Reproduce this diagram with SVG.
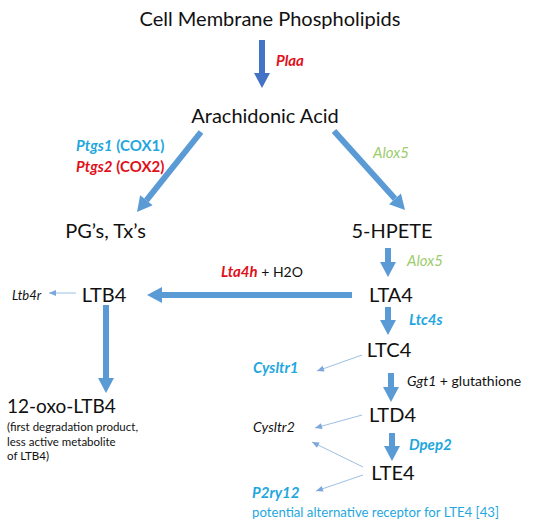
<svg xmlns="http://www.w3.org/2000/svg" width="550" height="529" viewBox="0 0 550 529">
<style>
text{font-family:Lato,"Open Sans","Liberation Sans",sans-serif;fill:#111}
.big{font-size:20px}
.mid{font-size:14px}
.bl{font-size:15px}
.sm{font-size:11.5px}
.b{font-weight:bold}
.i{font-style:italic}
.red{fill:#e0101a}
.cyan{fill:#1fa7de}
.green{fill:#9ccc6c}
.blk{fill:#111}
.thick{stroke:#5b9bd5;stroke-width:6;fill:none;marker-end:url(#head)}
.thin{stroke:#9dbfe3;stroke-width:1;fill:none;marker-end:url(#small)}
</style>
<defs>
<marker id="head" markerUnits="userSpaceOnUse" markerWidth="16" markerHeight="16" refX="0" refY="8" orient="auto" overflow="visible">
<path d="M0,0 L15,8 L0,16 Z" fill="#5b9bd5"/>
</marker>
<marker id="headDark" markerUnits="userSpaceOnUse" markerWidth="16" markerHeight="16" refX="0" refY="8" orient="auto" overflow="visible">
<path d="M0,0 L15,8 L0,16 Z" fill="#4472c4"/>
</marker>
<marker id="small" markerUnits="userSpaceOnUse" markerWidth="7" markerHeight="6" refX="7" refY="3" orient="auto" overflow="visible">
<path d="M0,0 L7,3 L0,6 Z" fill="#7aa7dc"/>
</marker>
</defs>
<rect width="550" height="529" fill="#fff"/>
<g id="connectors">
<line x1="262" y1="40" x2="262" y2="73" style="stroke:#4472c4;stroke-width:6;marker-end:url(#headDark)"/>
<line class="thick" x1="201" y1="132" x2="146.4" y2="200.3"/>
<line class="thick" x1="334" y1="131" x2="395" y2="198.8"/>
<line class="thick" x1="388" y1="248" x2="388" y2="262"/>
<line class="thick" x1="352" y1="295" x2="162" y2="295"/>
<line class="thick" x1="106" y1="305" x2="106" y2="378"/>
<line class="thick" x1="388" y1="307" x2="388" y2="320"/>
<line class="thick" x1="391" y1="373" x2="391" y2="387"/>
<line class="thick" x1="392" y1="433" x2="392" y2="446"/>
<line class="thin" x1="76" y1="293" x2="49" y2="293"/>
<line class="thin" x1="362" y1="355" x2="317" y2="371"/>
<line class="thin" x1="362" y1="415" x2="315" y2="428"/>
<line class="thin" x1="363" y1="467" x2="312" y2="442"/>
<line class="thin" x1="363" y1="475" x2="316" y2="491"/>
</g>
<g id="edge-labels">
<text class="bl b i red" x="276" y="66">Plaa</text>
<text class="bl b" x="76" y="151"><tspan class="i cyan">Ptgs1</tspan><tspan class="cyan"> (COX1)</tspan></text>
<text class="bl b" x="76" y="172"><tspan class="i red">Ptgs2</tspan><tspan class="red"> (COX2)</tspan></text>
<text class="bl i green" x="373" y="158">Alox5</text>
<text class="bl i green" x="407" y="266">Alox5</text>
<text class="mid" x="221" y="277"><tspan class="b i red" style="font-size:15px">Lta4h</tspan><tspan class="blk"> + H2O</tspan></text>
<text class="bl b i cyan" x="409" y="325">Ltc4s</text>
<text class="mid" x="407" y="386"><tspan class="i">Ggt1</tspan> + glutathione</text>
<text class="bl b i cyan" x="409" y="450">Dpep2</text>
</g>
<g id="node-membrane"><text class="big" x="270" y="26" text-anchor="middle">Cell Membrane Phospholipids</text></g>
<g id="node-aa"><text class="big" x="265" y="123" text-anchor="middle">Arachidonic Acid</text></g>
<g id="node-pg"><text class="big" x="105.5" y="238" text-anchor="middle">PG’s, Tx’s</text></g>
<g id="node-5hpete"><text class="big" x="392" y="238" text-anchor="middle">5-HPETE</text></g>
<g id="node-lta4"><text class="big" x="391" y="302" text-anchor="middle">LTA4</text></g>
<g id="node-ltb4"><text class="big" x="104" y="302" text-anchor="middle">LTB4</text></g>
<g id="node-ltb4r"><text class="i" x="12" y="300" style="font-size:13px">Ltb4r</text></g>
<g id="node-12oxo">
<text class="big" x="7" y="413" style="font-size:19px">12-oxo-LTB4</text>
<text class="sm" x="7" y="431">(first degradation product,</text>
<text class="sm" x="7" y="446">less active metabolite</text>
<text class="sm" x="7" y="460">of LTB4)</text>
</g>
<g id="node-ltc4"><text class="big" x="389" y="357" text-anchor="middle">LTC4</text></g>
<g id="node-cysltr1"><text class="bl b i cyan" x="253" y="373">Cysltr1</text></g>
<g id="node-ltd4"><text class="big" x="392.5" y="422" text-anchor="middle">LTD4</text></g>
<g id="node-cysltr2"><text class="mid i" x="253" y="432">Cysltr2</text></g>
<g id="node-lte4"><text class="big" x="393" y="480" text-anchor="middle">LTE4</text></g>
<g id="node-p2ry12">
<text class="bl b i cyan" x="252" y="498">P2ry12</text>
<text class="cyan" x="252" y="517" style="font-size:13.2px">potential alternative receptor for LTE4 [43]</text>
</g>
</svg>
